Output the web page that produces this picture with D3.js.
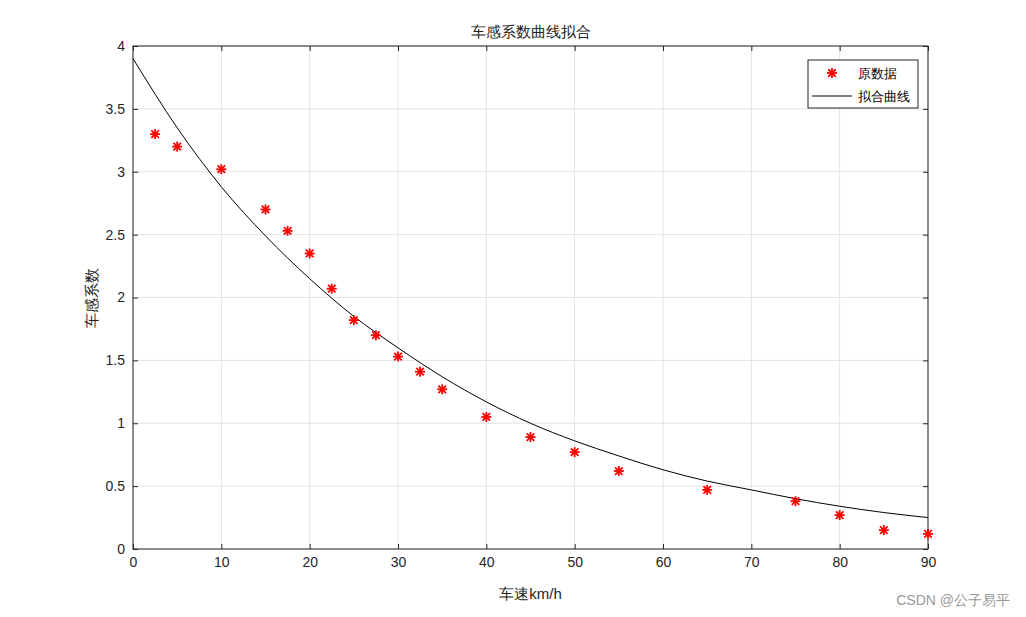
<!DOCTYPE html>
<html><head><meta charset="utf-8">
<script src="https://cdn.jsdelivr.net/npm/d3@7"></script>
<style>body{margin:0;background:#fff}text{font-family:"Liberation Sans",Arial,sans-serif}</style>
</head><body><svg id="c" width="1026" height="617"></svg>
<script>
const speeds=[2.5,5,10,15,17.5,20,22.5,25,27.5,30,32.5,35,40,45,50,55,65,75,80,85,90];
const coeffs=[3.3,3.2,3.02,2.7,2.53,2.35,2.07,1.82,1.7,1.53,1.41,1.27,1.05,0.89,0.77,0.62,0.47,0.38,0.27,0.15,0.12];
const fitX=[0,5,10,15,20,25,30,35,40,45,50,55,60,65,70,75,80,85,90];
const fitY=[3.9,3.35,2.88,2.49,2.15,1.85,1.6,1.37,1.17,1.0,0.86,0.74,0.63,0.54,0.47,0.4,0.34,0.29,0.25];
const xTicks=[0,10,20,30,40,50,60,70,80,90];
const yTicks=[0,0.5,1,1.5,2,2.5,3,3.5,4];
const cjk='"Noto Sans CJK SC",sans-serif';
const svg=d3.select('#c');
const L=133,R=928,T=46,B=549;
const x=d3.scaleLinear().domain([0,90]).range([L,R]);
const y=d3.scaleLinear().domain([0,4]).range([B,T]);
const g=svg.append('g');
// grid
g.selectAll('.gx').data(xTicks).join('line').attr('x1',d=>x(d)).attr('x2',d=>x(d)).attr('y1',T).attr('y2',B).attr('stroke','#e3e3e3');
g.selectAll('.gy').data(yTicks).join('line').attr('y1',d=>y(d)).attr('y2',d=>y(d)).attr('x1',L).attr('x2',R).attr('stroke','#e3e3e3');
g.append('rect').attr('x',L).attr('y',T).attr('width',R-L).attr('height',B-T).attr('fill','none').attr('stroke','#262626');
const ax=svg.append('g').attr('transform',`translate(0,${B})`).call(d3.axisBottom(x).tickValues(xTicks).tickSize(-5).tickPadding(8));
const ay=svg.append('g').attr('transform',`translate(${L},0)`).call(d3.axisLeft(y).tickValues(yTicks).tickSize(-5).tickPadding(8).tickFormat(d3.format('~g')));
svg.append('g').attr('transform',`translate(0,${T})`).call(d3.axisTop(x).tickValues(xTicks).tickSize(-5).tickFormat(''));
svg.append('g').attr('transform',`translate(${R},0)`).call(d3.axisRight(y).tickValues(yTicks).tickSize(-5).tickFormat(''));
svg.selectAll('.domain').remove();
svg.selectAll('.tick line').attr('stroke','#262626');
svg.selectAll('.tick text').attr('font-size',14).attr('fill','#262626');
// curve
svg.append('path').datum(fitX.map((d,i)=>[d,fitY[i]])).attr('fill','none').attr('stroke','#000').attr('stroke-width',1)
 .attr('d',d3.line().x(d=>x(d[0])).y(d=>y(d[1])).curve(d3.curveMonotoneX));
// stars
const star=(sel)=>{sel.each(function(){const s=d3.select(this);const r=5;
 [[0,-r,0,r],[-r,0,r,0],[-r*.75,-r*.75,r*.75,r*.75],[-r*.75,r*.75,r*.75,-r*.75]].forEach(l=>s.append('line').attr('x1',l[0]).attr('y1',l[1]).attr('x2',l[2]).attr('y2',l[3]).attr('stroke','#f00').attr('stroke-width',1.8));});};
svg.selectAll('.pt').data(speeds).join('g').attr('transform',(d,i)=>`translate(${x(d)},${y(coeffs[i])})`).call(star);
// title and labels
svg.append('text').attr('x',(L+R)/2).attr('y',37).attr('text-anchor','middle').attr('font-size',15).attr('font-family',cjk).attr('fill','#222').text('车感系数曲线拟合');
svg.append('text').attr('x',(L+R)/2).attr('y',599).attr('text-anchor','middle').attr('font-size',15).attr('font-family',cjk).attr('fill','#222').text('车速km/h');
svg.append('text').attr('transform',`translate(97,${(T+B)/2}) rotate(-90)`).attr('text-anchor','middle').attr('font-size',15).attr('font-family',cjk).attr('fill','#222').text('车感系数');
// legend
const lg=svg.append('g');
lg.append('rect').attr('x',808).attr('y',60).attr('width',110).attr('height',48).attr('fill','#fff').attr('stroke','#262626');
lg.append('g').attr('transform','translate(832,73)').call(star);
lg.append('line').attr('x1',812).attr('x2',852).attr('y1',96).attr('y2',96).attr('stroke','#000');
lg.append('text').attr('x',858).attr('y',78).attr('font-size',13).attr('font-family',cjk).text('原数据');
lg.append('text').attr('x',858).attr('y',101).attr('font-size',13).attr('font-family',cjk).text('拟合曲线');
svg.append('text').attr('x',1010).attr('y',605).attr('text-anchor','end').attr('font-size',14).attr('font-family',cjk).attr('fill','#999').text('CSDN @公子易平');
</script></body></html>
